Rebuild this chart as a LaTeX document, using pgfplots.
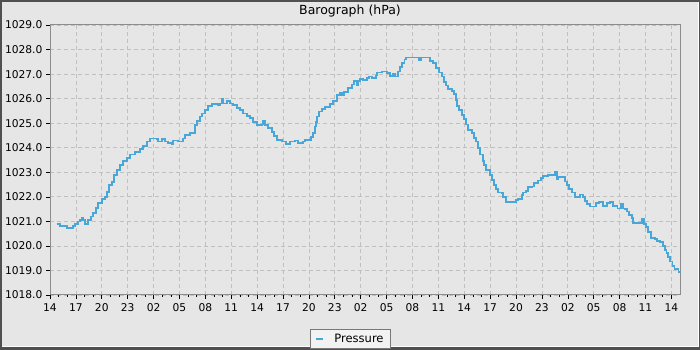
\documentclass[border=0pt]{standalone}
\usepackage{pgfplots}
\pgfplotsset{compat=1.18}
\usepackage{fontspec}
\setmainfont{DejaVu Sans}
\definecolor{bgray}{RGB}{230,230,230}
\definecolor{dborder}{RGB}{80,80,80}
\definecolor{axisgray}{RGB}{140,140,140}
\definecolor{gridgray}{RGB}{192,192,192}
\definecolor{lineblue}{RGB}{72,166,216}
\definecolor{legfill}{RGB}{242,242,242}
\definecolor{leggray}{RGB}{120,120,120}
\begin{document}
\begin{tikzpicture}
\useasboundingbox (0pt,0pt) rectangle (700pt,350pt);
\fill[dborder] (0pt,0pt) rectangle (700pt,350pt);
\fill[white] (2pt,3pt) rectangle (698.5pt,348pt);
\fill[bgray] (2pt,4pt) rectangle (697.5pt,348pt);
\node[font=\fontsize{12.5}{14}\selectfont] at (350pt,338.5pt) {Barograph (hPa)};
\begin{axis}[
  at={(50pt,55pt)}, anchor=south west,
  scale only axis, width=630pt, height=270pt,
  xmin=0, xmax=73, ymin=1018, ymax=1029,
  xtick={0,3,...,72},
  xticklabels={14,17,20,23,02,05,08,11,14,17,20,23,02,05,08,11,14,17,20,23,02,05,08,11,14},
  minor x tick num=2,
  ytick={1018,1019,...,1029},
  minor y tick num=1,
  tick pos=left, tick align=outside,
  major tick length=4pt, minor tick length=2pt,
  tick style={black, line width=0.6pt},
  axis line style={axisgray, line width=1pt},
  grid=major,
  major grid style={gridgray, dash pattern=on 4pt off 3pt, line width=0.7pt},
  ticklabel style={font=\fontsize{10.7}{12}\selectfont},
  yticklabel style={/pgf/number format/.cd, fixed, fixed zerofill, precision=1, 1000 sep={}, assume math mode=true},
  xticklabel style={yshift=-1pt},
  legend style={at={(axis description cs:0.477,-0.163)}, anchor=center,
    fill=legfill, draw=leggray, line width=0.8pt,
    font=\fontsize{11.5}{13}\selectfont, inner xsep=5pt, inner ysep=2.5pt},
  legend image code/.code={\draw[#1, line width=2pt] (0pt,0pt) -- (7pt,0pt); \path[draw=none, fill=none] (0pt,-1pt) rectangle (16pt,1pt);},
]
\addplot[const plot, color=lineblue, line width=1.7pt] table {
x y
0.78 1020.9
1.16 1020.8
1.94 1020.72
2.63 1020.8
2.90 1020.9
3.28 1021.0
3.48 1021.05
3.67 1021.15
3.86 1021.05
4.06 1020.9
4.44 1021.05
4.72 1021.2
5.02 1021.35
5.30 1021.55
5.60 1021.75
5.99 1021.9
6.37 1022.0
6.64 1022.2
6.87 1022.48
7.15 1022.6
7.42 1022.9
7.73 1023.1
8.11 1023.3
8.42 1023.47
8.89 1023.57
9.27 1023.73
9.85 1023.84
10.43 1023.94
10.81 1024.07
11.21 1024.25
11.59 1024.37
12.36 1024.35
12.55 1024.25
12.94 1024.35
13.33 1024.25
13.71 1024.2
14.10 1024.14
14.29 1024.3
14.83 1024.25
15.45 1024.38
15.64 1024.52
16.22 1024.59
16.60 1024.6
16.80 1024.93
17.00 1025.1
17.38 1025.27
17.58 1025.4
17.96 1025.54
18.34 1025.71
18.74 1025.78
19.50 1025.75
19.70 1025.8
19.90 1025.99
20.08 1025.8
20.54 1025.9
20.86 1025.8
21.21 1025.75
21.63 1025.63
22.02 1025.55
22.40 1025.4
22.79 1025.3
23.17 1025.2
23.49 1025.06
23.95 1024.93
24.53 1024.95
24.65 1025.1
24.91 1024.92
25.30 1024.79
25.69 1024.65
25.96 1024.49
26.27 1024.32
26.85 1024.25
27.35 1024.14
27.81 1024.25
28.39 1024.3
28.77 1024.2
29.35 1024.25
29.55 1024.32
29.93 1024.32
30.21 1024.45
30.51 1024.61
30.71 1024.86
30.82 1025.06
30.97 1025.27
31.21 1025.47
31.48 1025.58
31.87 1025.67
32.44 1025.77
32.83 1025.9
33.22 1026.15
33.60 1026.22
33.80 1026.13
34.07 1026.28
34.57 1026.42
34.96 1026.58
35.23 1026.72
35.54 1026.55
35.69 1026.72
35.92 1026.8
36.30 1026.77
36.70 1026.83
37.00 1026.9
37.28 1026.83
37.78 1026.94
37.93 1027.07
38.44 1027.1
39.02 1027.03
39.40 1026.92
39.71 1027.0
39.98 1026.9
40.36 1027.1
40.56 1027.3
40.82 1027.44
41.06 1027.6
41.22 1027.68
41.71 1027.67
42.64 1027.67
42.76 1027.55
42.99 1027.68
43.84 1027.67
44.03 1027.53
44.41 1027.44
44.73 1027.24
45.11 1027.07
45.39 1026.9
45.65 1026.69
45.89 1026.53
46.15 1026.39
46.55 1026.31
46.81 1026.18
47.05 1025.95
47.13 1025.71
47.43 1025.54
47.71 1025.33
47.97 1025.17
48.20 1024.95
48.47 1024.72
48.86 1024.59
49.13 1024.41
49.33 1024.25
49.56 1023.98
49.83 1023.73
50.14 1023.46
50.29 1023.3
50.52 1023.1
50.99 1022.89
51.18 1022.69
51.45 1022.48
51.68 1022.31
51.95 1022.17
52.34 1022.15
52.53 1021.98
52.84 1021.8
53.69 1021.8
54.00 1021.87
54.26 1021.9
54.66 1022.08
54.84 1022.17
55.16 1022.25
55.42 1022.39
55.82 1022.42
56.08 1022.58
56.31 1022.55
56.58 1022.66
56.86 1022.76
57.16 1022.85
57.74 1022.9
58.29 1022.9
58.52 1023.03
58.71 1022.71
58.90 1022.82
59.48 1022.82
59.68 1022.62
59.94 1022.48
60.17 1022.31
60.45 1022.17
60.83 1022.0
61.41 1022.1
61.73 1022.0
61.99 1021.84
62.26 1021.71
62.57 1021.6
63.04 1021.6
63.27 1021.75
63.65 1021.8
64.11 1021.63
64.51 1021.74
64.89 1021.8
65.27 1021.63
65.74 1021.53
66.13 1021.71
66.36 1021.53
66.63 1021.5
66.82 1021.4
67.13 1021.26
67.40 1021.13
67.59 1020.92
68.37 1020.92
68.56 1021.1
68.83 1020.9
69.06 1020.76
69.33 1020.58
69.61 1020.31
70.10 1020.28
70.30 1020.21
70.68 1020.17
70.99 1020.0
71.26 1019.83
71.45 1019.7
71.64 1019.54
71.84 1019.36
72.13 1019.18
72.36 1019.05
72.82 1018.95
73.0 1018.95
};
\addlegendentry{Pressure}
\end{axis}
\end{tikzpicture}
\end{document}
